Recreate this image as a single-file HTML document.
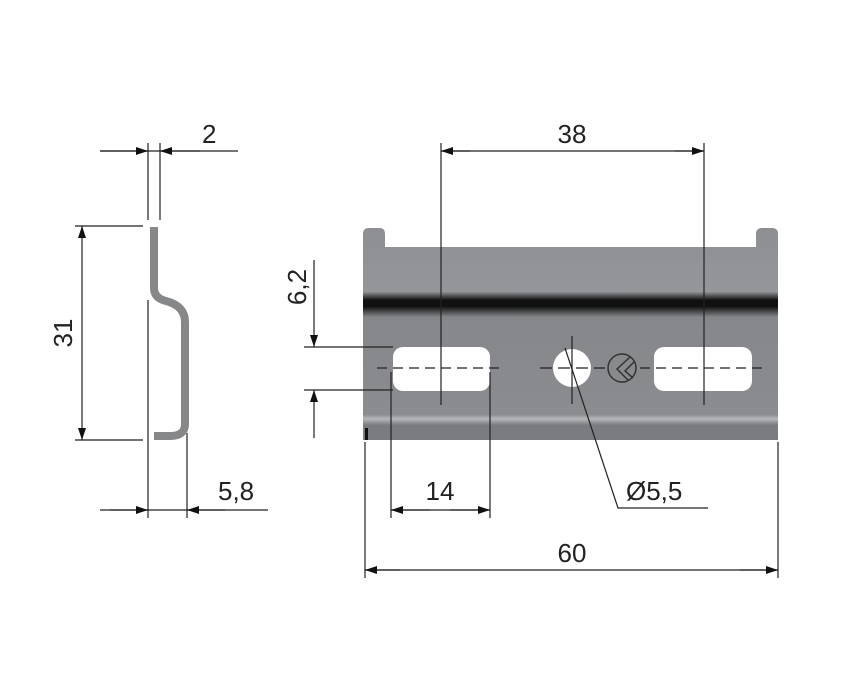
<!DOCTYPE html>
<html><head><style>
html,body{margin:0;padding:0;background:#fff;}
svg{display:block}
text{font-family:"Liberation Sans",sans-serif;font-size:26px;fill:#222}
</style></head><body>
<svg width="845" height="678" viewBox="0 0 845 678" xmlns="http://www.w3.org/2000/svg">
<defs>
<linearGradient id="pl" x1="0" y1="0" x2="0" y2="1">
<stop offset="0" stop-color="#8d8f93"/>
<stop offset="0.3" stop-color="#94969a"/>
<stop offset="0.34" stop-color="#111"/>
<stop offset="0.37" stop-color="#111"/>
<stop offset="0.42" stop-color="#85878b"/>
<stop offset="0.88" stop-color="#8a8c90"/>
<stop offset="0.9" stop-color="#b5b7ba"/>
<stop offset="0.93" stop-color="#7a7c80"/>
<stop offset="1" stop-color="#7a7c80"/>
</linearGradient>
<marker id="a" markerWidth="12" markerHeight="8" refX="12" refY="4" orient="auto" markerUnits="userSpaceOnUse" viewBox="0 0 12 8"><path d="M0,0 L12,4 L0,8Z" fill="#111"/></marker>
</defs>
<path d="M154,227 V288 Q154,298 166,301 Q185,306 185,322 V424 Q185,436 170,436 H154" fill="none" stroke="#858789" stroke-width="8"/>
<g stroke="#222" stroke-width="1.2" fill="none">
<line x1="148" y1="143" x2="148" y2="220"/><line x1="160" y1="143" x2="160" y2="220"/>
<line x1="100" y1="151" x2="238" y2="151"/>
<line x1="100" y1="151" x2="148" y2="151" marker-end="url(#a)"/>
<line x1="200" y1="151" x2="160" y2="151" marker-end="url(#a)"/>
<line x1="75" y1="226" x2="143" y2="226"/><line x1="75" y1="440" x2="143" y2="440"/>
<line x1="82" y1="330" x2="82" y2="226" marker-end="url(#a)"/>
<line x1="82" y1="330" x2="82" y2="440" marker-end="url(#a)"/>
<line x1="148" y1="300" x2="148" y2="518"/><line x1="187" y1="433" x2="187" y2="518"/>
<line x1="100" y1="510" x2="268" y2="510"/>
<line x1="110" y1="510" x2="148" y2="510" marker-end="url(#a)"/>
<line x1="225" y1="510" x2="187" y2="510" marker-end="url(#a)"/>
</g>
<text x="202" y="143">2</text>
<text x="218" y="500">5,8</text>
<text transform="translate(72,333) rotate(-90)" text-anchor="middle">31</text>
<path d="M363,234 Q363,228 369,228 H380 Q385,228 385,234 V247 H756 V234 Q756,228 762,228 H772 Q778,228 778,234 V440 H363Z" fill="url(#pl)"/>
<rect x="365" y="428" width="3" height="12" fill="#111"/>
<rect x="393" y="347" width="97" height="44" rx="10" fill="#fff"/>
<rect x="654" y="347" width="98" height="44" rx="10" fill="#fff"/>
<circle cx="572" cy="368" r="19" fill="#fff"/>
<circle cx="622" cy="368" r="14" fill="none" stroke="#333" stroke-width="1.5"/>
<path d="M630,357 L617,369 L628,380 M634,362 L625,371 L633,378" fill="none" stroke="#333" stroke-width="1.5"/>
<g stroke="#222" stroke-width="1.2" fill="none">
<line x1="377" y1="368" x2="505" y2="368" stroke-dasharray="10,6"/>
<line x1="540" y1="368" x2="605" y2="368" stroke-dasharray="12,6"/>
<line x1="640" y1="368" x2="765" y2="368" stroke-dasharray="10,6"/>
<line x1="572" y1="336" x2="572" y2="404"/>
<line x1="441" y1="143" x2="441" y2="405"/><line x1="704" y1="143" x2="704" y2="405"/>
<line x1="441" y1="151" x2="704" y2="151"/>
<line x1="470" y1="151" x2="441" y2="151" marker-end="url(#a)"/>
<line x1="675" y1="151" x2="704" y2="151" marker-end="url(#a)"/>
<line x1="304" y1="347" x2="393" y2="347"/><line x1="304" y1="390" x2="393" y2="390"/>
<line x1="314" y1="260" x2="314" y2="347" marker-end="url(#a)"/>
<line x1="314" y1="438" x2="314" y2="390" marker-end="url(#a)"/>
<line x1="391" y1="372" x2="391" y2="518"/><line x1="490" y1="372" x2="490" y2="518"/>
<line x1="391" y1="510" x2="490" y2="510"/>
<line x1="430" y1="510" x2="391" y2="510" marker-end="url(#a)"/>
<line x1="450" y1="510" x2="490" y2="510" marker-end="url(#a)"/>
<polyline points="565,348 618,508 708,508"/>
<line x1="365" y1="442" x2="365" y2="578"/><line x1="778" y1="442" x2="778" y2="578"/>
<line x1="365" y1="570" x2="778" y2="570"/>
<line x1="400" y1="570" x2="365" y2="570" marker-end="url(#a)"/>
<line x1="740" y1="570" x2="778" y2="570" marker-end="url(#a)"/>
</g>
<text x="572" y="143" text-anchor="middle">38</text>
<text transform="translate(306,287) rotate(-90)" text-anchor="middle">6,2</text>
<text x="440" y="500" text-anchor="middle">14</text>
<text x="626" y="500">Ø5,5</text>
<text x="572" y="562" text-anchor="middle">60</text>
</svg>
</body></html>
